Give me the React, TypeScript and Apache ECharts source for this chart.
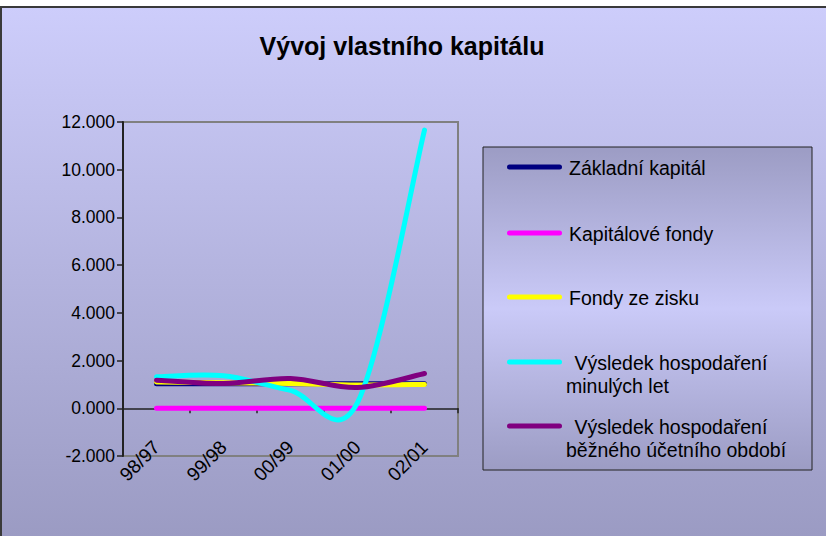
import React, { useEffect, useRef } from 'react';
import * as echarts from 'echarts';

const categories = ['98/97', '99/98', '00/99', '01/00', '02/01'];
const zakladniKapital = [1.03, 1.03, 1.03, 1.03, 1.03];
const kapitaloveFondy = [0, 0, 0, 0, 0];
const fondyZeZisku = [1.1, 1.07, 1.04, 0.98, 1.0];
const vysledekMinulych = [1.32, 1.36, 0.75, 0.24, 11.66];
const vysledekBezneho = [1.18, 1.04, 1.25, 0.87, 1.46];

const seriesNames = [
  'Základní kapitál',
  'Kapitálové fondy',
  'Fondy ze zisku',
  'Výsledek hospodaření minulých let',
  'Výsledek hospodaření běžného účetního období',
];
const legendLines = [
  ['Základní kapitál'],
  ['Kapitálové fondy'],
  ['Fondy ze zisku'],
  [' Výsledek hospodaření', 'minulých let'],
  [' Výsledek hospodaření', 'běžného účetního období'],
];
const seriesValues = [zakladniKapital, kapitaloveFondy, fondyZeZisku, vysledekMinulych, vysledekBezneho];
const colors = ['#000080', '#FF00FF', '#FFFF00', '#00FFFF', '#800080'];

const yMin = -2;
const yMax = 12;
const yInterval = 2;
const titleText = 'Vývoj vlastního kapitálu';

const FONT = '"Liberation Sans", Arial, sans-serif';

function smoothPath(pts: number[][]): string {
  let d = `M${pts[0][0]},${pts[0][1]}`;
  for (let i = 0; i < pts.length - 1; i++) {
    const p0 = pts[i - 1] || pts[i];
    const p1 = pts[i];
    const p2 = pts[i + 1];
    const p3 = pts[i + 2] || p2;
    const c1x = p1[0] + (p2[0] - p0[0]) / 6;
    const c1y = p1[1] + (p2[1] - p0[1]) / 6;
    const c2x = p2[0] - (p3[0] - p1[0]) / 6;
    const c2y = p2[1] - (p3[1] - p1[1]) / 6;
    d += ` C${c1x},${c1y} ${c2x},${c2y} ${p2[0]},${p2[1]}`;
  }
  return d;
}

function makeSeries(name: string, values: number[], color: string, z: number) {
  return {
    type: 'custom',
    name,
    xAxisIndex: 0,
    yAxisIndex: 0,
    data: values.map((v, i) => [i, v]),
    encode: { x: 0, y: 1 },
    clip: false,
    silent: true,
    z,
    renderItem: (params: any, api: any) => {
      if (params.dataIndex !== 0) return null;
      const pts = values.map((v, i) => api.coord([i, v]));
      return {
        type: 'path',
        shape: { pathData: smoothPath(pts) },
        style: { fill: 'none', stroke: color, lineWidth: 5, lineCap: 'round', lineJoin: 'round' },
      };
    },
  };
}

export default function App() {
  const ref = useRef<HTMLDivElement>(null);
  useEffect(() => {
    if (!ref.current) return;
    const chart = echarts.init(ref.current, null, { renderer: 'svg' });

    const legendX = 483;
    const legendY = 147;
    const legendW = 329;
    const legendH = 323;
    const itemY = [167, 233, 297, 362, 426];
    const legendGraphics: any[] = [
      {
        type: 'rect',
        z: 10,
        shape: { x: legendX, y: legendY, width: legendW, height: legendH },
        style: {
          fill: new echarts.graphic.LinearGradient(0, 0, 0, 1, [
            { offset: 0, color: '#9C9CC4' },
            { offset: 0.5, color: '#CACAF8' },
            { offset: 1, color: '#9C9CC4' },
          ]),
          stroke: '#222222',
          lineWidth: 1,
        },
      },
    ];
    legendLines.forEach((lines, i) => {
      legendGraphics.push({
        type: 'line',
        z: 11,
        shape: { x1: 509.5, y1: itemY[i], x2: 559.5, y2: itemY[i] },
        style: { stroke: colors[i], lineWidth: 5, lineCap: 'round' },
      });
      lines.forEach((t, j) => {
        legendGraphics.push({
          type: 'text',
          z: 11,
          style: {
            text: t,
            x: j === 0 ? 569 : 566,
            y: itemY[i] + 1 + j * 23,
            fill: '#000',
            font: `19.5px ${FONT}`,
            verticalAlign: 'middle',
            align: 'left',
          },
        });
      });
    });

    const option: any = {
      animation: false,
      backgroundColor: 'transparent',
      graphic: [
        {
          type: 'rect',
          z: -100,
          shape: { x: 1, y: 7, width: 830, height: 540 },
          style: {
            fill: new echarts.graphic.LinearGradient(0, 0, 0, 1, [
              { offset: 0, color: '#CDCDFB' },
              { offset: 1, color: '#9A9AC2' },
            ]),
            stroke: '#3A3A3A',
            lineWidth: 2,
          },
        },
        {
          type: 'text',
          z: 10,
          style: {
            text: titleText,
            x: 402,
            y: 46,
            fill: '#000',
            font: `bold 25px ${FONT}`,
            align: 'center',
            verticalAlign: 'middle',
          },
        },
        ...legendGraphics,
      ],
      grid: {
        left: 123,
        top: 122,
        width: 335,
        height: 334,
        show: true,
        borderColor: '#808080',
        borderWidth: 2,
        backgroundColor: 'transparent',
      },
      xAxis: [
        {
          type: 'category',
          data: categories,
          boundaryGap: true,
          position: 'bottom',
          axisLine: { show: true, onZero: true, lineStyle: { color: '#222', width: 1.5 } },
          axisTick: { show: true, inside: false, length: 5, lineStyle: { color: '#222', width: 1.5 } },
          axisLabel: { show: false },
          splitLine: { show: false },
        },
        {
          type: 'category',
          data: categories,
          boundaryGap: true,
          position: 'bottom',
          axisLine: { show: false, onZero: false },
          axisTick: { show: false },
          axisLabel: {
            show: true,
            rotate: 45,
            margin: -12,
            fontSize: 19,
            fontFamily: FONT,
            color: '#000',
          },
          splitLine: { show: false },
        },
      ],
      yAxis: {
        type: 'value',
        min: yMin,
        max: yMax,
        interval: yInterval,
        axisLine: { show: true, onZero: false, lineStyle: { color: '#222', width: 2 } },
        axisTick: { show: true, length: 6, lineStyle: { color: '#222', width: 1.5 } },
        axisLabel: {
          formatter: (v: number) => v.toFixed(3),
          fontSize: 17.5,
          fontFamily: FONT,
          color: '#000',
          margin: 8,
        },
        splitLine: { show: false },
      },
      series: seriesNames.map((n, i) => makeSeries(n, seriesValues[i], colors[i], 3 + i)),
    };
    chart.setOption(option);
    return () => chart.dispose();
  }, []);
  return (
    <div
      ref={ref}
      style={{ position: 'absolute', left: 0, top: 0, width: 826, height: 536 }}
    />
  );
}
